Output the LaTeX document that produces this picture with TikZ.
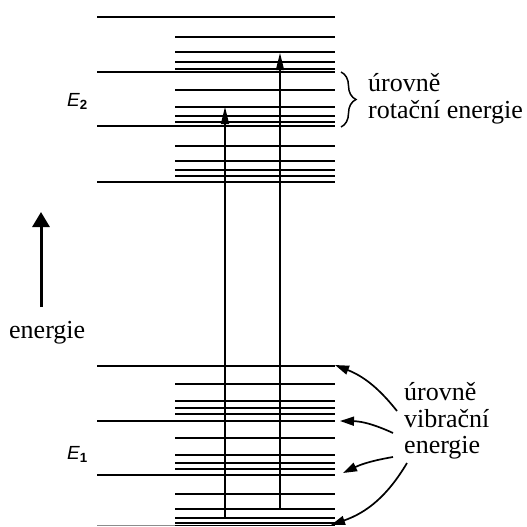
\documentclass[tikz,border=0pt]{standalone}
\usepackage{fontspec}
\setmainfont{Liberation Serif}
\newfontfamily\hvfont{Liberation Sans}
\usetikzlibrary{arrows.meta,decorations.pathreplacing}
\begin{document}
\begin{tikzpicture}[x=1pt,y=-1pt,
  lvl/.style={line width=1.7pt},
  trans/.style={line width=1.5pt,-{Triangle[length=17pt,width=8pt]}},
  lbl/.style={font=\fontsize{26}{26}\selectfont,inner sep=0pt,anchor=base west},
  ptr/.style={line width=1.7pt,-{Triangle[length=14pt,width=9pt]}},
  elbl/.style={font=\hvfont\itshape\fontsize{19}{19}\selectfont,inner sep=0pt,anchor=base west}]
\useasboundingbox (0,0) rectangle (527,527);
\fill[white] (0,0) rectangle (527,527);
% vibrational levels (long lines)
\foreach \y in {17,72,126,182,366,421,475}
  \draw[lvl] (97,\y) -- (335,\y);
\draw[lvl,black!45] (97,525.5) -- (175,525.5);
\draw[lvl] (175,525.5) -- (335,525.5);
% rotational levels (short lines)
\foreach \y in {37,52,62,69,90,107,116,122,146,161,170,176,384,401,408,414,438,455,463,469,494,509,518,523}
  \draw[lvl] (175,\y) -- (335,\y);
% transitions
\coordinate (t1s) at (225,518);
\coordinate (t1e) at (225,107);
\coordinate (t2s) at (280,509);
\coordinate (t2e) at (280,53);
\draw[trans] (t1s) -- (t1e);
\draw[trans] (t2s) -- (t2e);
% energy axis
\coordinate (ea) at (41,307);
\coordinate (eb) at (41,212);
\draw[line width=3pt,-{Triangle[length=15pt,width=17pt]}] (ea) -- (eb);
\node[lbl] (en) at (9,338) {energie};
% E labels
\node[elbl] (E2) at (67,106) {E\textsubscript{\bfseries\upshape 2}};
\node[elbl] (E1) at (67,459) {E\textsubscript{\bfseries\upshape 1}};
% rotational brace
\coordinate (bt) at (341,72);
\coordinate (bb) at (341,127);
\draw[line width=1.5pt,decorate,decoration={brace,amplitude=15pt}] (bt) -- (bb);
\node[lbl] (r1) at (368,92) {úrovně};
\node[lbl] (r2) at (368,118) {rotační energie};
% vibrational labels
\node[lbl] (v1) at (404,400) {úrovně};
\node[lbl] (v2) at (404,427) {vibrační};
\node[lbl] (v3) at (404,453) {energie};
\coordinate (p1s) at (397,411);
\coordinate (p1e) at (335,365);
\coordinate (p2s) at (393,433);
\coordinate (p2e) at (340,421);
\coordinate (p3s) at (393,457);
\coordinate (p3e) at (343,473);
\coordinate (p4s) at (407,463);
\coordinate (p4e) at (331,525);
\draw[ptr] (p1s) to[bend right=15] (p1e);
\draw[ptr] (p2s) to[bend right=12] (p2e);
\draw[ptr] (p3s) to[bend right=8] (p3e);
\draw[ptr] (p4s) to[bend left=20] (p4e);
\end{tikzpicture}
\end{document}
